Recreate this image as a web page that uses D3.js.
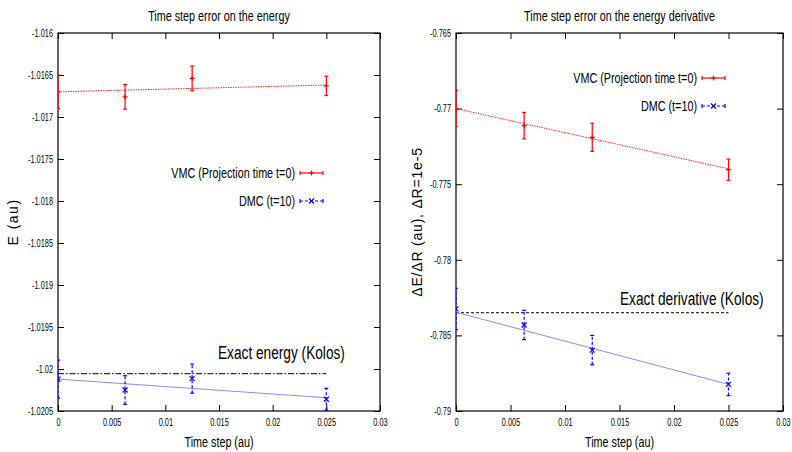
<!DOCTYPE html>
<html>
<head>
<meta charset="utf-8">
<script src="https://cdn.jsdelivr.net/npm/d3@7"></script>
<style>
  body { margin: 0; background: #fff; }
  text { font-family: "Liberation Sans", Arial, sans-serif; fill: #000; }
</style>
</head>
<body>
<div id="chart"></div>
<script>
// time steps shared by both panels
var timeSteps = [0, 0.00625, 0.0125, 0.025];
var fitEnds = [0, 0.025];
var xTicks = [0, 0.005, 0.01, 0.015, 0.02, 0.025, 0.03];
var xTickLabels = ["0", "0.005", "0.01", "0.015", "0.02", "0.025", "0.03"];

// left panel: energy
var energyVmc = [-1.0167, -1.01676, -1.01654, -1.01663];
var energyVmcErr = [0.0002, 0.000147, 0.000147, 0.000115];
var energyDmc = [-1.02012, -1.02025, -1.020115, -1.02036];
var energyDmcErr = [0.000226, 0.00017, 0.000173, 0.00013];
var energyVmcFit = [-1.0167, -1.01662];
var energyDmcFit = [-1.02012, -1.020342];
var energyExact = -1.020056;
var energyTicks = [-1.016, -1.0165, -1.017, -1.0175, -1.018, -1.0185, -1.019, -1.0195, -1.02, -1.0205];
var energyTickLabels = ["-1.016", "-1.0165", "-1.017", "-1.0175", "-1.018", "-1.0185", "-1.019", "-1.0195", "-1.02", "-1.0205"];

// right panel: energy derivative
var derivVmc = [-0.770, -0.77113, -0.7719, -0.77404];
var derivVmcErr = [0.0012, 0.00088, 0.00093, 0.0007];
var derivDmc = [-0.78325, -0.78431, -0.78597, -0.78824];
var derivDmcErr = [0.00137, 0.00097, 0.00097, 0.00074];
var derivVmcFit = [-0.770, -0.77398];
var derivDmcFit = [-0.78347, -0.78824];
var derivExact = -0.7835;
var derivTicks = [-0.765, -0.77, -0.775, -0.78, -0.785, -0.79];
var derivTickLabels = ["-0.765", "-0.77", "-0.775", "-0.78", "-0.785", "-0.79"];

var svg = d3.select("#chart").append("svg")
  .attr("width", 792)
  .attr("height", 452);

// no narrow font installed, so squeeze text horizontally around its anchor
function condense(sel, k) {
  sel.each(function () {
    var t = d3.select(this);
    var x = +t.attr("x") || 0, y = +t.attr("y") || 0;
    t.attr("transform", `translate(${x},${y}) scale(${k},1) translate(${-x},${-y})`);
  });
  return sel;
}

function drawPanel(p) {
  var x = d3.scaleLinear().domain([0, 0.03]).range([p.left, p.right]);
  var y = d3.scaleLinear().domain(p.yDomain).range([p.bottom, p.top]);
  var g = svg.append("g");

  var clipId = "clip" + p.id;
  g.append("clipPath").attr("id", clipId)
    .append("rect")
    .attr("x", p.left).attr("y", p.top)
    .attr("width", p.right - p.left).attr("height", p.bottom - p.top);

  // axes, gnuplot style: ticks inside on all four sides
  var bottomAxis = d3.axisBottom(x).tickValues(xTicks)
    .tickFormat((d, i) => xTickLabels[i]).tickSize(-6).tickPadding(8);
  var topAxis = d3.axisTop(x).tickValues(xTicks).tickFormat("").tickSize(-6);
  var leftAxis = d3.axisLeft(y).tickValues(p.yTicks)
    .tickFormat((d, i) => p.yTickLabels[i]).tickSize(-6).tickPadding(5);
  var rightAxis = d3.axisRight(y).tickValues(p.yTicks).tickFormat("").tickSize(-6);

  [
    [bottomAxis, `translate(0,${p.bottom})`],
    [topAxis, `translate(0,${p.top})`],
    [leftAxis, `translate(${p.left},0)`],
    [rightAxis, `translate(${p.right},0)`]
  ].forEach(function (a) {
    var ax = g.append("g").attr("transform", a[1]).call(a[0]);
    ax.select(".domain").remove();
    ax.selectAll("text").style("font-size", "10px").attr("fill", "#222");
    condense(ax.selectAll("text"), 0.74);
  });

  g.append("rect")
    .attr("x", p.left).attr("y", p.top)
    .attr("width", p.right - p.left).attr("height", p.bottom - p.top)
    .attr("fill", "none").attr("stroke", "#000").attr("stroke-width", 1.2);

  var plot = g.append("g").attr("clip-path", `url(#${clipId})`);

  // exact value
  plot.append("line")
    .attr("x1", x(fitEnds[0])).attr("x2", x(fitEnds[1]))
    .attr("y1", y(p.exact)).attr("y2", y(p.exact))
    .attr("stroke", "#000").attr("stroke-width", 1)
    .attr("stroke-dasharray", p.exactDash);

  // fit lines
  plot.append("line")
    .attr("x1", x(fitEnds[0])).attr("x2", x(fitEnds[1]))
    .attr("y1", y(p.vmcFit[0])).attr("y2", y(p.vmcFit[1]))
    .attr("stroke", "#ff2020").attr("stroke-width", 1)
    .attr("stroke-dasharray", "1.5,1");
  plot.append("line")
    .attr("x1", x(fitEnds[0])).attr("x2", x(fitEnds[1]))
    .attr("y1", y(p.dmcFit[0])).attr("y2", y(p.dmcFit[1]))
    .attr("stroke", "#8a8aff").attr("stroke-width", 1);

  function errorBars(values, errs, color, dash, marker) {
    timeSteps.forEach(function (t, i) {
      var cx = x(t);
      var y0 = y(values[i] - errs[i]);
      var y1 = y(values[i] + errs[i]);
      var cy = y(values[i]);
      plot.append("line")
        .attr("x1", cx).attr("x2", cx).attr("y1", y0).attr("y2", y1)
        .attr("stroke", color).attr("stroke-width", 1.2)
        .attr("stroke-dasharray", dash);
      [y0, y1].forEach(function (yy) {
        plot.append("line")
          .attr("x1", cx - 2).attr("x2", cx + 2).attr("y1", yy).attr("y2", yy)
          .attr("stroke", color).attr("stroke-width", 1.2);
      });
      drawMarker(plot, marker, cx, cy, color);
    });
  }

  errorBars(p.vmc, p.vmcErr, "#ff0000", null, "plus");
  errorBars(p.dmc, p.dmcErr, "#0000ff", "3,2", "cross");

  // legend
  var legX = p.legendX;
  [
    { label: "VMC (Projection time t=0)", y: p.legendY, color: "#ff0000", dash: null, marker: "plus" },
    { label: "DMC (t=10)", y: p.legendY + 28, color: "#0000ff", dash: "3,2", marker: "cross" }
  ].forEach(function (l) {
    var t = g.append("text")
      .attr("x", legX).attr("y", l.y)
      .attr("dy", "0.35em")
      .attr("text-anchor", "end")
      .style("font-size", "15px")
      .text(l.label);
    condense(t, 0.72);
    g.append("line")
      .attr("x1", legX + 5).attr("x2", legX + 28).attr("y1", l.y).attr("y2", l.y)
      .attr("stroke", l.color).attr("stroke-width", 1.2)
      .attr("stroke-dasharray", l.dash);
    [legX + 5, legX + 28].forEach(function (xx) {
      g.append("line")
        .attr("x1", xx).attr("x2", xx).attr("y1", l.y - 2).attr("y2", l.y + 2)
        .attr("stroke", l.color).attr("stroke-width", 1.2);
    });
    drawMarker(g, l.marker, legX + 16.5, l.y, l.color);
  });

  // exact label
  condense(g.append("text")
    .attr("x", p.exactLabelX).attr("y", p.exactLabelY)
    .attr("dy", "0.35em")
    .style("font-size", "19px")
    .text(p.exactLabel), 0.72);

  // titles
  condense(g.append("text")
    .attr("x", (p.left + p.right) / 2).attr("y", 16)
    .attr("dy", "0.35em").attr("text-anchor", "middle")
    .style("font-size", "15px")
    .text(p.title), 0.72);
  condense(g.append("text")
    .attr("x", (p.left + p.right) / 2).attr("y", 442)
    .attr("dy", "0.35em").attr("text-anchor", "middle")
    .style("font-size", "15px")
    .text("Time step (au)"), 0.72);
  g.append("text")
    .attr("transform", `translate(${p.yLabelX},${(p.top + p.bottom) / 2}) rotate(-90)`)
    .attr("dy", "0.35em").attr("text-anchor", "middle")
    .style("font-size", p.yLabelSize)
    .style("letter-spacing", p.yLabelSpacing)
    .text(p.yLabel);
}

function drawMarker(sel, type, cx, cy, color) {
  var s = 2.5;
  if (type === "plus") {
    sel.append("path")
      .attr("d", `M${cx - s},${cy}H${cx + s}M${cx},${cy - s}V${cy + s}`)
      .attr("stroke", color).attr("stroke-width", 1.2).attr("fill", "none");
  } else {
    sel.append("path")
      .attr("d", `M${cx - s},${cy - s}L${cx + s},${cy + s}M${cx - s},${cy + s}L${cx + s},${cy - s}`)
      .attr("stroke", color).attr("stroke-width", 1.2).attr("fill", "none");
  }
}

drawPanel({
  id: "E", left: 58, right: 380, top: 33, bottom: 411,
  yDomain: [-1.0205, -1.016], yTicks: energyTicks, yTickLabels: energyTickLabels,
  vmc: energyVmc, vmcErr: energyVmcErr, dmc: energyDmc, dmcErr: energyDmcErr,
  vmcFit: energyVmcFit, dmcFit: energyDmcFit, exact: energyExact, exactDash: "6,2,1.5,2",
  legendX: 295, legendY: 173,
  exactLabel: "Exact energy (Kolos)", exactLabelX: 218, exactLabelY: 352,
  title: "Time step error on the energy",
  yLabel: "E (au)", yLabelX: 13, yLabelSize: "14px", yLabelSpacing: "1.5px"
});

drawPanel({
  id: "D", left: 456, right: 783, top: 33, bottom: 411,
  yDomain: [-0.79, -0.765], yTicks: derivTicks, yTickLabels: derivTickLabels,
  vmc: derivVmc, vmcErr: derivVmcErr, dmc: derivDmc, dmcErr: derivDmcErr,
  vmcFit: derivVmcFit, dmcFit: derivDmcFit, exact: derivExact, exactDash: "3,2",
  legendX: 697, legendY: 78,
  exactLabel: "Exact derivative (Kolos)", exactLabelX: 620, exactLabelY: 298,
  title: "Time step error on the energy derivative",
  yLabel: "\u0394E/\u0394R (au),  \u0394R=1e-5", yLabelX: 417, yLabelSize: "14px", yLabelSpacing: "0.8px"
});
</script>
</body>
</html>
